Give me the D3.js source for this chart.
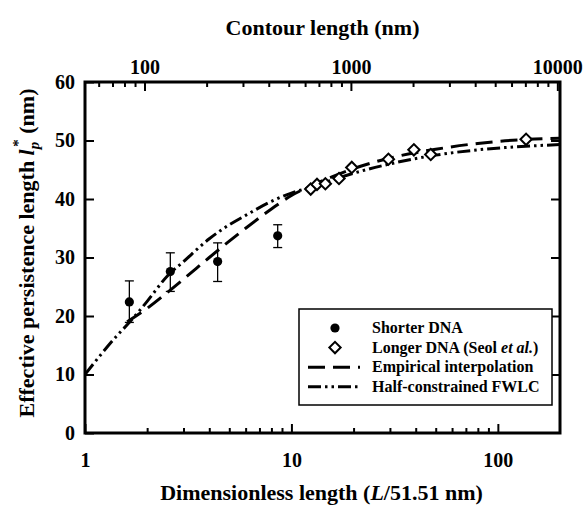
<!DOCTYPE html>
<html>
<head>
<meta charset="utf-8">
<script src="https://cdn.jsdelivr.net/npm/d3@7"></script>
<style>
  body { margin: 0; background: #fff; }
  svg { display: block; }
  svg text { font-family: "Liberation Serif", "Times New Roman", Times, serif !important; font-weight: bold; fill: #000; }
</style>
</head>
<body>
<svg id="chart" width="585" height="505"></svg>
<script>
'use strict';

// shorter DNA (filled circles, with error bars)
const shortX = [1.64, 2.59, 4.39, 8.58];
const shortY = [22.4, 27.6, 29.3, 33.7];
const shortLo = [18.9, 24.2, 25.9, 31.7];
const shortHi = [26.0, 30.8, 32.5, 35.6];

// longer DNA, Seol et al. (open diamonds)
const longX = [12.4, 13.3, 14.6, 17.0, 19.6, 29.5, 39.2, 47.3, 137];
const longY = [41.7, 42.5, 42.6, 43.5, 45.4, 46.8, 48.4, 47.6, 50.2];

// empirical interpolation (dashed)
const empX = [1.6, 2, 2.5, 3, 4, 5, 6, 8, 10, 12, 15, 20, 30, 50, 80, 140, 200];
const empY = [19.0, 21.3, 24.0, 26.3, 30.0, 32.8, 35.0, 38.3, 40.6, 42.0, 43.5, 45.2, 47.0, 48.5, 49.5, 50.2, 50.4];

// half-constrained FWLC (dash-dot-dot)
const fwlcX = [1, 1.2, 1.4, 1.65, 2, 2.5, 3, 4, 5, 6, 8, 10, 12, 15, 20, 30, 50, 80, 120, 200];
const fwlcY = [10, 13.5, 16.3, 19.0, 22.5, 26.8, 29.3, 33.2, 35.6, 37.2, 39.6, 41.0, 41.9, 43.0, 44.4, 46.0, 47.5, 48.4, 48.9, 49.3];

const xMajor = [1, 10, 100];
const xMinor = [2, 3, 4, 5, 6, 7, 8, 9, 20, 30, 40, 50, 60, 70, 80, 90];
const topMajor = [100, 1000, 10000];
const topMinor = [60, 70, 80, 90, 200, 300, 400, 500, 600, 700, 800, 900,
                  2000, 3000, 4000, 5000, 6000, 7000, 8000, 9000];
const yTicks = [0, 10, 20, 30, 40, 50, 60];

const persistence = 51.51;

const m = {left: 85, right: 560, top: 82, bottom: 433};
const serif = "'Liberation Serif', 'Times New Roman', serif";

const svg = d3.select("#chart");

const x = d3.scaleLog().domain([1, 200]).range([m.left, m.right]);
const xTop = d3.scaleLog().domain([persistence, 200 * persistence]).range([m.left, m.right]);
const y = d3.scaleLinear().domain([0, 60]).range([m.bottom, m.top]);

// axes
function styleAxis(g) {
  g.attr("font-family", serif).attr("font-size", 20);
  g.select(".domain").remove();
  g.selectAll(".tick line").attr("stroke", "#000").attr("stroke-width", 2);
  g.selectAll(".tick text").attr("font-family", serif).attr("font-size", 20);
}

svg.append("g")
  .attr("transform", `translate(0,${m.bottom})`)
  .call(d3.axisBottom(x).tickValues(xMajor).tickFormat(d3.format("d")).tickSizeInner(-9).tickSizeOuter(0).tickPadding(20))
  .call(styleAxis);

svg.append("g")
  .attr("transform", `translate(0,${m.bottom})`)
  .call(d3.axisBottom(x).tickValues(xMinor).tickFormat("").tickSizeInner(-5).tickSizeOuter(0))
  .call(styleAxis);

svg.append("g")
  .attr("transform", `translate(0,${m.top})`)
  .call(d3.axisTop(xTop).tickValues(topMajor).tickFormat(d3.format("d")).tickSizeInner(-9).tickSizeOuter(0).tickPadding(8))
  .call(styleAxis);

svg.append("g")
  .attr("transform", `translate(0,${m.top})`)
  .call(d3.axisTop(xTop).tickValues(topMinor).tickFormat("").tickSizeInner(-5).tickSizeOuter(0))
  .call(styleAxis);

svg.append("g")
  .attr("transform", `translate(${m.left},0)`)
  .call(d3.axisLeft(y).tickValues(yTicks).tickFormat(d3.format("d")).tickSizeInner(-9).tickSizeOuter(0).tickPadding(10))
  .call(styleAxis);

svg.append("g")
  .attr("transform", `translate(${m.right},0)`)
  .call(d3.axisRight(y).tickValues(yTicks.slice(1, -1)).tickFormat("").tickSizeInner(-9).tickSizeOuter(0))
  .call(styleAxis);

svg.append("rect")
  .attr("x", m.left).attr("y", m.top)
  .attr("width", m.right - m.left).attr("height", m.bottom - m.top)
  .attr("fill", "none").attr("stroke", "#000").attr("stroke-width", 3);

// curves
const line = d3.line()
  .x(d => x(d[0]))
  .y(d => y(d[1]))
  .curve(d3.curveMonotoneX);

const empDash = "17,8";
const fwlcDash = "13,4,2.5,4,2.5,4";

svg.append("path")
  .datum(d3.zip(empX, empY))
  .attr("d", line)
  .attr("fill", "none")
  .attr("stroke", "#000")
  .attr("stroke-width", 3)
  .attr("stroke-dasharray", empDash);

svg.append("path")
  .datum(d3.zip(fwlcX, fwlcY))
  .attr("d", line)
  .attr("fill", "none")
  .attr("stroke", "#000")
  .attr("stroke-width", 3)
  .attr("stroke-dasharray", fwlcDash);

// error bars
const shortData = shortX.map((v, i) => ({x: v, y: shortY[i], lo: shortLo[i], hi: shortHi[i]}));

const err = svg.append("g").attr("stroke", "#000").attr("stroke-width", 1.3);
err.selectAll(".bar").data(shortData).enter().append("line")
  .attr("x1", d => x(d.x)).attr("x2", d => x(d.x))
  .attr("y1", d => y(d.lo)).attr("y2", d => y(d.hi));
err.selectAll(".capHi").data(shortData).enter().append("line")
  .attr("x1", d => x(d.x) - 4.5).attr("x2", d => x(d.x) + 4.5)
  .attr("y1", d => y(d.hi)).attr("y2", d => y(d.hi));
err.selectAll(".capLo").data(shortData).enter().append("line")
  .attr("x1", d => x(d.x) - 4.5).attr("x2", d => x(d.x) + 4.5)
  .attr("y1", d => y(d.lo)).attr("y2", d => y(d.lo));

svg.append("g").selectAll("circle")
  .data(shortData).enter().append("circle")
  .attr("cx", d => x(d.x)).attr("cy", d => y(d.y))
  .attr("r", 4.6).attr("fill", "#000");

// diamonds
const diamond = d3.symbol().type(d3.symbolSquare).size(64);
svg.append("g").selectAll("path")
  .data(d3.zip(longX, longY)).enter().append("path")
  .attr("d", diamond)
  .attr("transform", d => `translate(${x(d[0])},${y(d[1])}) rotate(45)`)
  .attr("fill", "#fff").attr("stroke", "#000").attr("stroke-width", 2);

// legend
const lg = svg.append("g").attr("font-family", serif);
lg.append("rect")
  .attr("x", 299).attr("y", 309).attr("width", 253).attr("height", 96)
  .attr("fill", "#fff").attr("stroke", "#000").attr("stroke-width", 1.5);

const rows = [
  {kind: "circle", label: "Shorter DNA"},
  {kind: "diamond", label: "Longer DNA (Seol "},
  {kind: "emp", label: "Empirical interpolation"},
  {kind: "fwlc", label: "Half-constrained FWLC"}
];
rows.forEach((r, i) => {
  const cy = 328 + i * 19.6;
  if (r.kind === "circle") {
    lg.append("circle").attr("cx", 335).attr("cy", cy).attr("r", 4.6).attr("fill", "#000");
  } else if (r.kind === "diamond") {
    lg.append("path").attr("d", diamond)
      .attr("transform", `translate(335,${cy}) rotate(45)`)
      .attr("fill", "#fff").attr("stroke", "#000").attr("stroke-width", 2);
  } else {
    lg.append("line")
      .attr("x1", 308).attr("x2", 360).attr("y1", cy).attr("y2", cy)
      .attr("stroke", "#000").attr("stroke-width", 3)
      .attr("stroke-dasharray", r.kind === "emp" ? empDash : fwlcDash);
  }
  const t = lg.append("text")
    .attr("x", 372).attr("y", cy + 5)
    .attr("font-family", serif)
    .attr("font-size", 16)
    .text(r.label);
  if (r.kind === "diamond") {
    t.append("tspan").attr("font-style", "italic").text("et al.");
    t.append("tspan").text(")");
  }
});

// titles
svg.append("text")
  .attr("x", (m.left + m.right) / 2).attr("y", 35)
  .attr("text-anchor", "middle").attr("font-size", 22)
  .attr("font-family", serif)
  .text("Contour length (nm)");

const xt = svg.append("text")
  .attr("x", (m.left + m.right) / 2 - 1).attr("y", 500)
  .attr("text-anchor", "middle").attr("font-size", 22)
  .attr("font-family", serif)
  .text("Dimensionless length (");
xt.append("tspan").attr("font-style", "italic").text("L");
xt.append("tspan").text("/51.51 nm)");

const yt = svg.append("text")
  .attr("transform", `translate(34,253) rotate(-90)`)
  .attr("text-anchor", "middle").attr("font-size", 22)
  .attr("font-family", serif)
  .text("Effective persistence length ");
yt.append("tspan").attr("font-style", "italic").text("l");
yt.append("tspan").attr("font-style", "italic").attr("font-size", 15).attr("dy", 5).text("p");
yt.append("tspan").attr("font-size", 15).attr("dy", -16).attr("dx", -5).text("*");
yt.append("tspan").attr("dy", 11).text("  (nm)");
</script>
</body>
</html>
